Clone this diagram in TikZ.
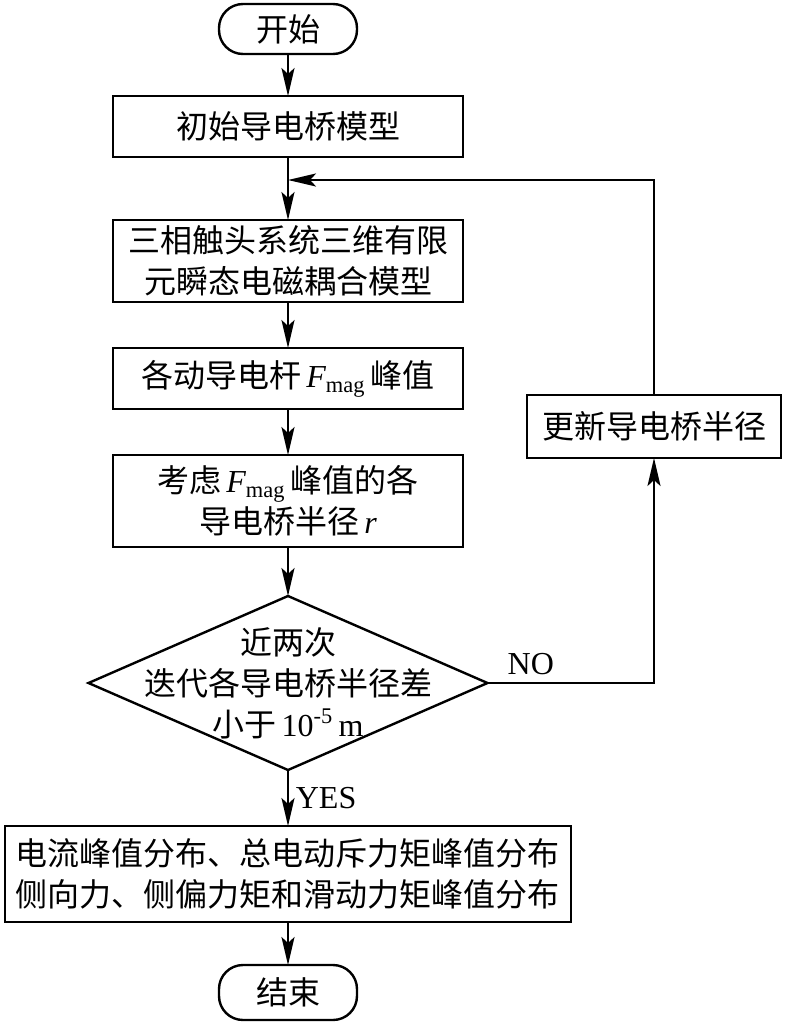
\documentclass[tikz,border=0pt]{standalone}
\usepackage{fontspec}
\setmainfont{Liberation Serif}
\newfontfamily\cjk{Noto Sans CJK SC}
\usetikzlibrary{arrows.meta,shapes,positioning}

\begin{document}
\begin{tikzpicture}
      \tikzstyle{every node}=[font=\cjk\fontsize{16}{20.5}\selectfont]
      \tikzstyle{terminal}=[draw, line width=1.2pt, outer sep=0pt, rounded corners=12pt, minimum width=69pt, minimum height=25pt, inner ysep=1pt]
      \tikzstyle{process}=[draw, line width=1.2pt, outer sep=0pt, minimum width=175pt, minimum height=30.5pt, inner ysep=1pt, align=center]
      \tikzstyle{decision}=[draw, line width=1.2pt, outer sep=0pt, diamond, minimum width=199.5pt, minimum height=87pt, inner sep=0pt]
      \tikzstyle{flow}=[line width=1.2pt, -{Stealth[length=14pt,width=6.5pt,inset=3pt]}]
      \tikzstyle{label_text}=[font=\rmfamily\fontsize{16}{20}\selectfont]

      \useasboundingbox (0,0) rectangle (392.5pt,-511.5pt);

      \node (start) [terminal] at (144pt,-14.5pt) {开始};
      \node (box1) [process, below=21pt of start] {初始导电桥模型};
      \coordinate [below=11.5pt of box1.south] (loopin);
      \node (box2) [process, minimum height=41pt, below=31.5pt of box1] {三相触头系统三维有限\\元瞬态电磁耦合模型};
      \node (box3) [process, below=23pt of box2] {各动导电杆{\rmfamily\itshape\,F}{\rmfamily\textsubscript{mag}}\,峰值};
      \node (box4) [process, minimum height=46pt, below=23pt of box3] {考虑{\rmfamily\itshape\,F}{\rmfamily\textsubscript{mag}}\,峰值的各\\导电桥半径{\rmfamily\itshape\,r}};
      \node (check) [decision, below=24.5pt of box4] {};
      \node (checktext) at (check) [align=center] {近两次\\迭代各导电桥半径差\\小于{\rmfamily\,10\textsuperscript{-5}\,m}};
      \node (result) [process, minimum width=283pt, minimum height=48pt, below=28pt of check] {电流峰值分布、总电动斥力矩峰值分布\\侧向力、侧偏力矩和滑动力矩峰值分布};
      \node (stop) [terminal, minimum height=27.5pt, below=21.5pt of result] {结束};
      \node (update) [process, minimum width=127pt, minimum height=31.5pt, right=32pt of box3, yshift=-24pt] {更新导电桥半径};

      \draw[flow] (start) -- (box1);
      \draw[flow] (box1) -- (box2);
      \draw[flow] (box2) -- (box3);
      \draw[flow] (box3) -- (box4);
      \draw[flow] (box4) -- (check);
      \draw[flow] (check) -- (result) node[midway, right, label_text] {YES};
      \draw[flow] (result) -- (stop);
      \draw[flow] (check.east) -| (update.south) node[pos=0.13, above, label_text] {NO};
      \draw[flow] (update.north) |- (loopin);
\end{tikzpicture}
\end{document}
